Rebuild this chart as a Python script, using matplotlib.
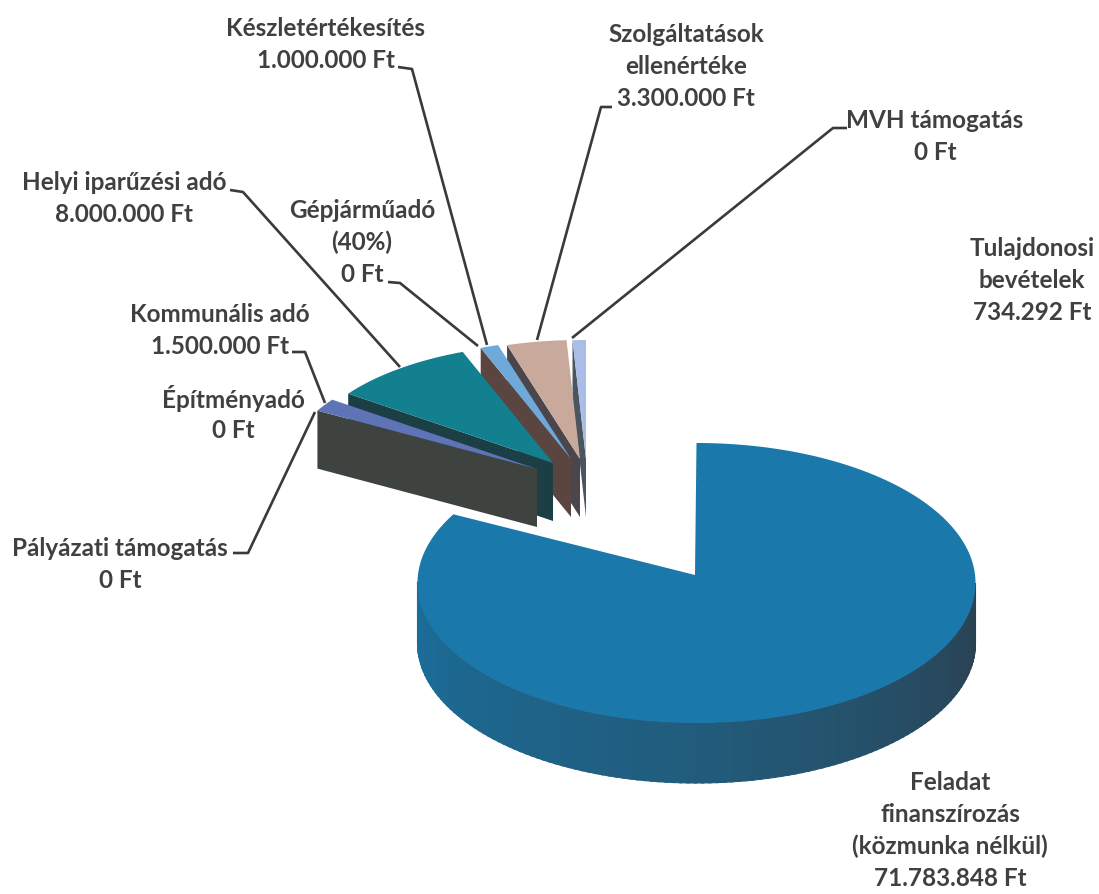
import numpy as np
import matplotlib
matplotlib.use('Agg')
import matplotlib.pyplot as plt
from matplotlib.colors import LinearSegmentedColormap
from matplotlib.patches import Polygon

plt.rcParams['font.family'] = ['Lato', 'DejaVu Sans']

# Data, clockwise from the top of the pie
categories = ['Feladat finanszírozás', 'Pályázati támogatás', 'Építményadó', 'Kommunális adó',
              'Helyi iparűzési adó', 'Gépjárműadó', 'Készletértékesítés',
              'Szolgáltatások ellenértéke', 'MVH támogatás', 'Tulajdonosi bevételek']
values = [71783848, 0, 0, 1500000, 8000000, 0, 1000000, 3300000, 0, 734292]

top_colors = ['#1a78ab', '#000000', '#000000', '#5f74b6', '#12808f', '#000000',
              '#6ea9d9', '#c8a99b', '#000000', '#a9bde6']
wall_colors = ['#1f5f82', '#000000', '#000000', '#3e4340', '#1c3f46', '#000000',
               '#5a4540', '#4a464c', '#000000', '#4b5560']
apex_x = [695, 0, 0, 537, 553, 0, 571, 580, 0, 586]
apex_y = [575, 0, 0, 469, 463, 0, 459, 459, 0, 459]

# Label lines and where they go (centre x, first line centre y)
label_lines = [
    ['Készletértékesítés', '1.000.000 Ft'],
    ['Szolgáltatások', 'ellenértéke', '3.300.000 Ft'],
    ['MVH támogatás', '0 Ft'],
    ['Helyi iparűzési adó', '8.000.000 Ft'],
    ['Gépjárműadó', '(40%)', '0 Ft'],
    ['Tulajdonosi', 'bevételek', '734.292 Ft'],
    ['Kommunális adó', '1.500.000 Ft'],
    ['Építményadó', '0 Ft'],
    ['Pályázati támogatás', '0 Ft'],
    ['Feladat', 'finanszírozás', '(közmunka nélkül)', '71.783.848 Ft'],
]
label_x = [326, 686, 935, 124, 362, 1032, 220, 233, 120, 950]
label_y = [29, 35, 120, 183, 210, 248, 314, 398, 548, 782]

# Leader lines
leaders = [
    [(398, 67), (412, 69), (487, 345)],
    [(612, 107), (601, 107), (537, 340)],
    [(847, 128), (833, 128), (572, 338)],
    [(230, 190), (243, 192), (400, 367)],
    [(388, 282), (400, 283), (478, 346)],
    [(292, 352), (305, 352), (325, 403)],
    [(233, 553), (248, 553), (315, 412)],
]

RX, RY = 279, 140
CX, CY = 696.5, 583
DEPTH = 60
SMALL_RX, SMALL_RY = 252, 119
SMALL_DEPTH = 58


def arc_points(cx, cy, rx, ry, a0, a1, n=80):
    t = np.radians(np.linspace(a0, a1, n))
    return np.column_stack([cx + rx * np.sin(t), cy - ry * np.cos(t)])


fig = plt.figure(figsize=(10.99, 8.94), dpi=100)
ax = fig.add_axes([0, 0, 1, 1])
ax.set_xlim(0, 1099)
ax.set_ylim(894, 0)
ax.axis('off')

angles = np.cumsum([0] + values) / sum(values) * 360
start, end = angles[:-1], angles[1:]

# Big slice: side wall strips first, shaded from left to right, then the top
wall_cmap = LinearSegmentedColormap.from_list('wall', ['#1b6e9c', '#215c7c', '#2b4050'])
edge = np.linspace(90, 270, 121)
for a, b in zip(edge[:-1], edge[1:]):
    upper = arc_points(CX, CY, RX, RY, a, b + 0.5, 4)
    lower = upper[::-1] + [0, DEPTH]
    c = wall_cmap((270 - a) / 180)
    ax.add_patch(Polygon(np.vstack([upper, lower]), closed=True, lw=0.8, ec=c, fc=c))
rim = arc_points(CX, CY, RX, RY, start[0], end[0], 300)
ax.add_patch(Polygon(np.vstack([[apex_x[0], apex_y[0]], rim]), closed=True, lw=0, fc=top_colors[0]))

# Exploded slices, painted right to left so the nearer ones overlap
for i in range(len(values) - 1, 0, -1):
    if values[i] == 0:
        continue
    apex = np.array([apex_x[i], apex_y[i]], dtype=float)
    rim = arc_points(apex[0], apex[1], SMALL_RX, SMALL_RY, start[i], end[i])
    wall = [rim[0], apex, apex + [0, SMALL_DEPTH], rim[0] + [0, SMALL_DEPTH]]
    ax.add_patch(Polygon(wall, closed=True, lw=0, fc=wall_colors[i]))
    ax.add_patch(Polygon(np.vstack([apex, rim]), closed=True, lw=0, fc=top_colors[i]))

for pts in leaders:
    xs, ys = zip(*pts)
    ax.plot(xs, ys, color='#3a3a3a', lw=1.9, solid_capstyle='butt', solid_joinstyle='round')

for lines, x, y in zip(label_lines, label_x, label_y):
    for k, line in enumerate(lines):
        ax.text(x, y + k * 32, line, ha='center', va='center', fontsize=17.5,
                fontweight='bold', color='#404040')

fig.savefig('out.png', dpi=100, facecolor='white')
